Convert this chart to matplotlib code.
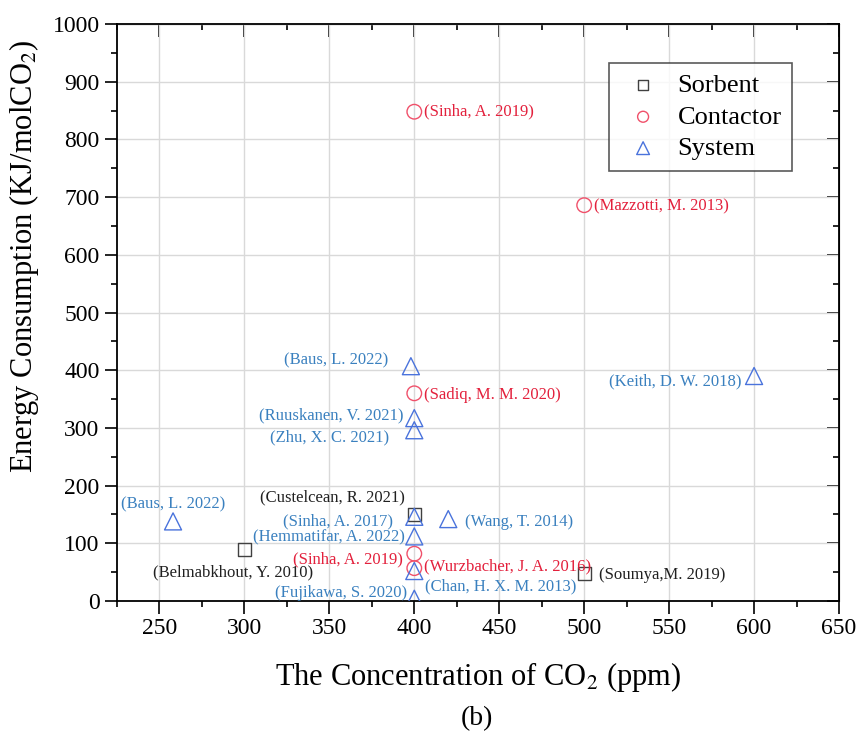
import matplotlib
matplotlib.use("Agg")
import matplotlib.pyplot as plt
from matplotlib.ticker import MultipleLocator

plt.rcParams["font.family"] = ["Liberation Serif", "DejaVu Serif"]
plt.rcParams["mathtext.fontset"] = "stix"

# Sorbent studies
sorbent_x = [300, 400, 500]
sorbent_y = [90, 150, 47]
sorbent_labels = ["(Belmabkhout, Y. 2010)", "(Custelcean, R. 2021)", "(Soumya,M. 2019)"]

# Contactor studies
contactor_x = [400, 500, 400, 400, 400]
contactor_y = [848, 686, 360, 82, 57]
contactor_labels = ["(Sinha, A. 2019)", "(Mazzotti, M. 2013)", "(Sadiq, M. M. 2020)",
                    "(Sinha, A. 2019)", "(Wurzbacher, J. A. 2016)"]

# System studies
system_x = [258, 398, 400, 400, 400, 400, 420, 600, 400, 400]
system_y = [138, 407, 317, 296, 146, 112, 142, 390, 52, 4]
system_labels = ["(Baus, L. 2022)", "(Baus, L. 2022)", "(Ruuskanen, V. 2021)",
                 "(Zhu, X. C. 2021)", "(Sinha, A. 2017)", "(Hemmatifar, A. 2022)",
                 "(Wang, T. 2014)", "(Keith, D. W. 2018)", "(Chan, H. X. M. 2013)",
                 "(Fujikawa, S. 2020)"]

# label placement: (dx, dy) offset in points, horizontal alignment
sorbent_pos = [((-8, -17), "center"), ((-7, 12), "right"), ((11, -1), "left")]
contactor_pos = [((7, 0), "left"), ((7, -1), "left"), ((7, -1), "left"),
                 ((-8, -4), "right"), ((7, 1), "left")]
system_pos = [((0, 12), "center"), ((-16, 4), "right"), ((-8, 2), "right"),
              ((-18, -5), "right"), ((-15, -3), "right"), ((-7, -1), "right"),
              ((12, -2), "left"), ((-9, -4), "right"), ((8, -11), "left"),
              ((-5, 4), "right")]

SQ_COL = "#404040"
RED_MK = "#f0506a"
RED_TX = "#e3203c"
BLUE_MK = "#4a73dc"
BLUE_TX = "#3a80bf"

fig = plt.figure(figsize=(8.57, 7.39), dpi=100)
ax = fig.add_axes([0.1365, 0.1867, 0.8425, 0.7808])

ax.scatter(sorbent_x, sorbent_y, marker="s", s=90, facecolors="none",
           edgecolors=SQ_COL, linewidths=1.0, label="Sorbent", zorder=3)
ax.scatter(contactor_x, contactor_y, marker="o", s=110, facecolors="none",
           edgecolors=RED_MK, linewidths=1.0, label="Contactor", zorder=3)
ax.scatter(system_x, system_y, marker="^", s=150, facecolors="none",
           edgecolors=BLUE_MK, linewidths=1.0, label="System", zorder=3)


def put_labels(xs, ys, labels, pos, color):
    for x, y, t, ((dx, dy), ha) in zip(xs, ys, labels, pos):
        ax.annotate(t, (x, y), xytext=(dx, dy), textcoords="offset points",
                    ha=ha, va="center", fontsize=12, color=color, zorder=4)


put_labels(sorbent_x, sorbent_y, sorbent_labels, sorbent_pos, "#202020")
put_labels(contactor_x, contactor_y, contactor_labels, contactor_pos, RED_TX)
put_labels(system_x, system_y, system_labels, system_pos, BLUE_TX)

ax.set_xlim(225, 650)
ax.set_ylim(0, 1000)
ax.xaxis.set_major_locator(MultipleLocator(50))
ax.xaxis.set_minor_locator(MultipleLocator(25))
ax.yaxis.set_major_locator(MultipleLocator(100))
ax.yaxis.set_minor_locator(MultipleLocator(50))
ax.grid(True, which="major", color="#d9d9d9", linewidth=1.0, zorder=0)
ax.set_axisbelow(True)

ax.tick_params(which="both", direction="out", labelsize=17, width=1.2)
ax.tick_params(which="major", length=9)
ax.tick_params(which="minor", length=4.5)
for sp in ax.spines.values():
    sp.set_linewidth(1.3)

# inward ticks on top and right
top = ax.secondary_xaxis("top")
top.xaxis.set_major_locator(MultipleLocator(50))
top.xaxis.set_minor_locator(MultipleLocator(25))
top.tick_params(which="both", direction="in", labeltop=False, width=1.2)
top.tick_params(which="major", length=9)
top.tick_params(which="minor", length=4.5)
right = ax.secondary_yaxis("right")
right.yaxis.set_major_locator(MultipleLocator(100))
right.yaxis.set_minor_locator(MultipleLocator(50))
right.tick_params(which="both", direction="in", labelright=False, width=1.2)
right.tick_params(which="major", length=9)
right.tick_params(which="minor", length=4.5)

ax.set_xlabel(r"The Concentration of CO$_2$ (ppm)", fontsize=22, labelpad=15)
ax.set_ylabel(r"Energy Consumption (KJ/molCO$_2$)", fontsize=22)
ax.yaxis.set_label_coords(-0.105, 0.598)
fig.text(0.557, 0.028, "(b)", ha="center", va="center", fontsize=20)

leg = ax.legend(loc="upper right", bbox_to_anchor=(0.935, 0.932), fontsize=19,
                frameon=True, fancybox=False, edgecolor="#303030",
                markerscale=0.75, handletextpad=0.4, borderpad=0.4,
                labelspacing=0.3, handlelength=1.8, borderaxespad=0)
leg.get_frame().set_linewidth(1.2)

fig.savefig("out.png", dpi=100)
